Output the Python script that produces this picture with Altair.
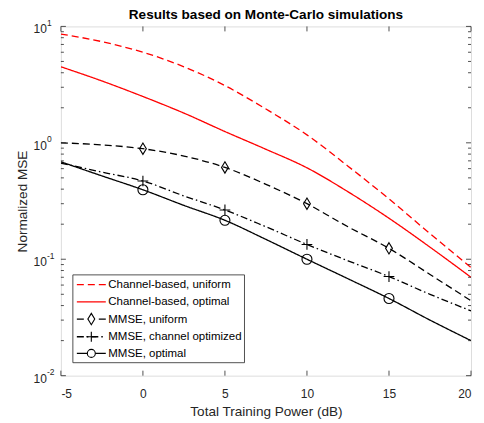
import altair as alt
import pandas as pd

# ---------------- data ----------------
power_db = [-5, -2.5, 0, 2.5, 5, 7.5, 10, 12.5, 15, 17.5, 20]

series_names = [
    "Channel-based, uniform",
    "Channel-based, optimal",
    "MMSE, uniform",
    "MMSE, channel optimized",
    "MMSE, optimal",
]

chan_uniform = [8.6, 7.4, 6.0, 4.5, 3.1, 1.95, 1.17, 0.63, 0.33, 0.166, 0.085]
chan_optimal = [4.5, 3.4, 2.5, 1.8, 1.25, 0.88, 0.61, 0.38, 0.225, 0.127, 0.07]
mmse_uniform = [1.0, 0.96, 0.89, 0.77, 0.615, 0.44, 0.30, 0.19, 0.124, 0.074, 0.044]
mmse_chanopt = [0.67, 0.56, 0.47, 0.35, 0.265, 0.19, 0.134, 0.097, 0.071, 0.05, 0.036]
mmse_optimal = [0.687, 0.52, 0.395, 0.29, 0.216, 0.148, 0.10, 0.068, 0.046, 0.030, 0.020]

series_values = [chan_uniform, chan_optimal, mmse_uniform, mmse_chanopt, mmse_optimal]

marker_db = [0, 5, 10, 15]
marker_series = ["MMSE, uniform", "MMSE, channel optimized", "MMSE, optimal"]

x_ticks = [-5, 0, 5, 10, 15, 20]
y_decades = [0.01, 0.1, 1, 10]
y_exponents = ["-2", "-1", "0", "1"]
y_minor = [m * d for d in [0.01, 0.1, 1] for m in range(2, 10)]

title_text = "Results based on Monte-Carlo simulations"
x_title = "Total Training Power (dB)"
y_title = "Normalized MSE"

# ---------------- styles ----------------
colors = ["#ff0000", "#ff0000", "#000000", "#000000", "#000000"]
dashes = [[7, 4], [1, 0], [7, 4], [7, 3, 1.5, 3], [1, 0]]
diamond = "M0,-1L0.6,0L0,1L-0.6,0Z"
plus = "M-1,0H1M0,-1V1"
marker_shapes = [diamond, plus, "circle"]
marker_sizes = [130, 100, 64]

W, H = 411, 350
FONT = "Liberation Sans"
AXC = "#262626"

rows = []
for name, vals in zip(series_names, series_values):
    for x, y in zip(power_db, vals):
        rows.append({"series": name, "x": x, "y": y})
df = pd.DataFrame(rows)
df_mark = df[df["series"].isin(marker_series) & df["x"].isin(marker_db)]

xs = alt.Scale(domain=[-5, 20], nice=False, zero=False)
ys = alt.Scale(type="log", domain=[0.01, 10], nice=False)

x_enc = alt.X("x:Q", scale=xs,
              axis=alt.Axis(values=x_ticks, tickSize=0, domain=False, grid=False,
                            labelExpr="'' + datum.value", labelFont=FONT,
                            labelFontSize=12, labelColor=AXC, labelPadding=13,
                            title=x_title, titleFont=FONT, titleFontSize=13.6,
                            titleFontWeight="normal", titleColor=AXC,
                            titleY=36, titleBaseline="middle"))
y_enc = alt.Y("y:Q", scale=ys,
              axis=alt.Axis(labels=False, ticks=False, domain=False, grid=False,
                            title=y_title, titleFont=FONT, titleFontSize=13.6,
                            titleFontWeight="normal", titleColor=AXC,
                            titleX=-38, titleBaseline="middle"))

lines = alt.Chart(df).mark_line(strokeWidth=1.3, clip=True, interpolate="monotone").encode(
    x=x_enc, y=y_enc,
    color=alt.Color("series:N", scale=alt.Scale(domain=series_names, range=colors), legend=None),
    strokeDash=alt.StrokeDash("series:N", scale=alt.Scale(domain=series_names, range=dashes), legend=None),
    detail="series:N",
)

markers = alt.Chart(df_mark).mark_point(filled=False, color="#000000", strokeWidth=1.1, opacity=1).encode(
    x=alt.X("x:Q", scale=xs), y=alt.Y("y:Q", scale=ys),
    shape=alt.Shape("series:N", scale=alt.Scale(domain=marker_series, range=marker_shapes), legend=None),
    size=alt.Size("series:N", scale=alt.Scale(domain=marker_series, range=marker_sizes), legend=None),
)

# ticks (inward, MATLAB style)
xt = pd.DataFrame({"x": x_ticks})
xt_bottom = alt.Chart(xt).mark_rule(color=AXC, strokeWidth=0.8).encode(
    x=alt.X("x:Q", scale=xs), y=alt.value(H), y2=alt.value(H - 5))
xt_top = alt.Chart(xt).mark_rule(color=AXC, strokeWidth=0.8).encode(
    x=alt.X("x:Q", scale=xs), y=alt.value(0), y2=alt.value(5))
ymaj = pd.DataFrame({"y": y_decades, "e": y_exponents})
ymin = pd.DataFrame({"y": y_minor})
yt = []
for d, ln in ((ymaj, 5), (ymin, 3)):
    yt.append(alt.Chart(d).mark_rule(color=AXC, strokeWidth=0.8).encode(
        y=alt.Y("y:Q", scale=ys), x=alt.value(0), x2=alt.value(ln)))
    yt.append(alt.Chart(d).mark_rule(color=AXC, strokeWidth=0.8).encode(
        y=alt.Y("y:Q", scale=ys), x=alt.value(W - ln), x2=alt.value(W)))

ylab_base = alt.Chart(ymaj).mark_text(align="right", baseline="middle", font=FONT,
                                      fontSize=12, color=AXC, dy=3).encode(
    y=alt.Y("y:Q", scale=ys), x=alt.value(-14), text=alt.value("10"))
ylab_exp = alt.Chart(ymaj).mark_text(align="left", baseline="middle", font=FONT,
                                     fontSize=8.5, color=AXC, dy=-3.5).encode(
    y=alt.Y("y:Q", scale=ys), x=alt.value(-14), text="e:N")

one = pd.DataFrame({"a": [0]})

# title as a text mark above the plot area
title_mark = alt.Chart(one).mark_text(align="center", baseline="middle", font=FONT,
                                      fontSize=13.6, fontWeight="bold", color="#000000").encode(
    x=alt.value(W / 2), y=alt.value(-11), text=alt.value(title_text))

# legend (box in the lower-left corner)
leg_layers = [alt.Chart(one).mark_rect(fill="white", stroke=AXC, strokeWidth=0.8).encode(
    x=alt.value(12), x2=alt.value(184), y=alt.value(249), y2=alt.value(337))]
row_y = [258.7, 276, 293.3, 311, 327.7]
for i, name in enumerate(series_names):
    yy = row_y[i]
    leg_layers.append(alt.Chart(one).mark_rule(color=colors[i], strokeWidth=1.3,
                                               strokeDash=dashes[i]).encode(
        x=alt.value(16), x2=alt.value(45), y=alt.value(yy)))
    if name in marker_series:
        j = marker_series.index(name)
        leg_layers.append(alt.Chart(one).mark_point(
            filled=False, color="#000000", fill="white", strokeWidth=1.1, opacity=1,
            shape=marker_shapes[j], size=marker_sizes[j]).encode(
            x=alt.value(30.5), y=alt.value(yy)))
    leg_layers.append(alt.Chart(one).mark_text(align="left", baseline="middle", font=FONT,
                                               fontSize=11.5, color="#000000").encode(
        x=alt.value(47.5), y=alt.value(yy + 0.5), text=alt.value(name)))

chart = alt.layer(lines, markers, *leg_layers, xt_bottom, xt_top, *yt,
                  ylab_base, ylab_exp, title_mark).properties(
    width=W, height=H,
    autosize=alt.AutoSizeParams(type="none"),
    padding={"left": 53, "top": 18, "right": 5, "bottom": 50},
).configure_view(stroke=AXC, strokeWidth=0.9).configure(background="white")

chart.save("out.html", embed_options={"renderer": "svg", "actions": False})
